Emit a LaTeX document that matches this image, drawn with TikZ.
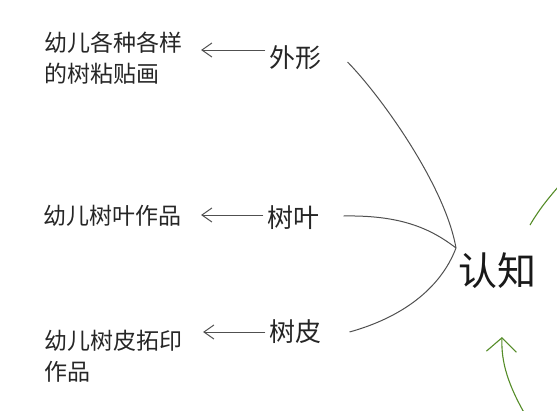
\documentclass[tikz,border=0pt]{standalone}
\usepackage{fontspec}
\newfontfamily\cjk{Noto Sans CJK SC}
\usetikzlibrary{arrows.meta}
\definecolor{linegray}{RGB}{80,80,80}
\definecolor{leafgreen}{RGB}{85,140,40}

\begin{document}
\begin{tikzpicture}[x=1pt,y=-1pt,
	>={Straight Barb[length=10pt,width=14pt]},
	lbl/.style={font=\cjk\fontsize{26}{30}\selectfont, text=black!85},
	work/.style={anchor=west, align=left, font=\cjk\fontsize{23}{31}\selectfont, text=black!85},
	link/.style={color=linegray, line width=1pt},
	green/.style={color=leafgreen, line width=1.1pt}]
	\clip (0,0) rectangle (557,410);
	% centre word and the three branches
	\node[font=\cjk\fontsize{39}{44}\selectfont, text=black!90] (renzhi) at (497,271) {认知};
	\coordinate (hub) at (456,248);
	\node[lbl] (waixing) at (295,58) {外形};
	\node[lbl] (shuye) at (293,218) {树叶};
	\node[lbl] (shupi) at (295,332) {树皮};
	% children's works
	\node[work] (tiehua) at (41,58) {幼儿各种各样\\的树粘贴画};
	\node[work] (yezuopin) at (40,216) {幼儿树叶作品};
	\node[work] (pizuopin) at (41,356) {幼儿树皮拓印\\作品};
	% arrows to the works
	\draw[link, ->, shorten >=15pt] ([yshift=8pt]waixing.west) -- ([yshift=8pt]waixing.west -| tiehua.east);
	\draw[link, ->, shorten >=16pt] ([yshift=3pt]shuye.west) -- ([yshift=3pt]shuye.west -| yezuopin.east);
	\draw[link, ->, shorten >=17pt] (shupi.west) -- (shupi.west -| pizuopin.east);
	% curves into the centre word
	\draw[link] ([xshift=23pt,yshift=-4pt]waixing.east) .. controls (380,95) and (445,185) .. (hub);
	\draw[link] ([xshift=21pt,yshift=2pt]shuye.east) .. controls (400,215) and (430,228) .. (hub);
	\draw[link] ([xshift=25pt]shupi.east) .. controls (400,318) and (440,290) .. (hub);
	% green arrows from the right
	\coordinate (gtop) at (530,225);
	\coordinate (gbot) at (526,416);
	\coordinate (gtip) at (502,337);
	\draw[green] (gtop) .. controls (540,208) and (550,196) .. (566,178);
	\draw[green, ->, >={Straight Barb[length=14pt,width=30pt]}] (gbot) .. controls (508,385) and (501,362) .. (gtip);
\end{tikzpicture}
\end{document}
